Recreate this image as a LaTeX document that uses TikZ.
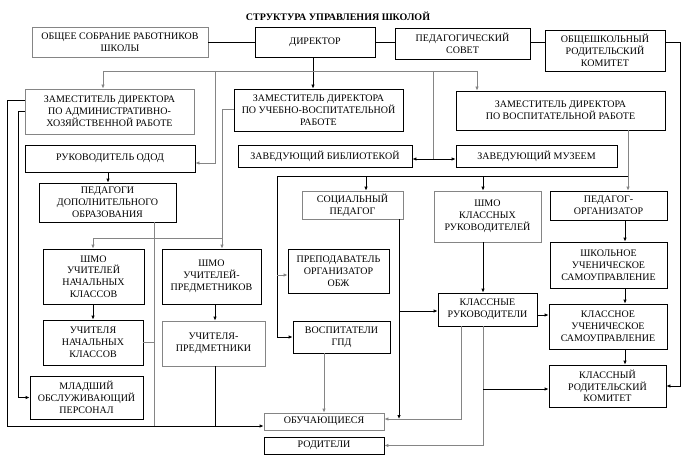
\documentclass[tikz,border=0pt]{standalone}
\usepackage{fontspec}
\setmainfont{Liberation Serif}
\usetikzlibrary{arrows.meta}
\definecolor{gl}{rgb}{0.52,0.52,0.52}
\newcommand\mybox[7][]{%
  \node[box,#1,minimum width={(#5-#3)*1pt},minimum height={(#6-#4)*1pt}] (#2) at ({(#3+#5)/2},{(#4+#6)/2}) {#7};}
\tikzset{
  box/.style={draw=black,line width=0.8pt,inner sep=0pt,align=center,font=\fontsize{10}{11.8}\selectfont},
  gbox/.style={draw=gl},
  ln/.style={draw=black,line width=0.8pt},
  gln/.style={draw=gl,line width=0.8pt},
  arr/.style={ln,-{Latex[length=4pt,width=3.5pt]}},
  garr/.style={gln,-{Latex[length=4pt,width=3.5pt]}},
}
\begin{document}
\begin{tikzpicture}[x=1pt,y=-1pt]
\useasboundingbox (0,0) rectangle (687,465);
\node[font=\bfseries\fontsize{10}{12}\selectfont] (title) at (338,16) {СТРУКТУРА УПРАВЛЕНИЯ ШКОЛОЙ};
% boxes
\mybox[gbox]{sobr}{32}{27}{208}{57}{ОБЩЕЕ СОБРАНИЕ РАБОТНИКОВ\\ШКОЛЫ}
\mybox{dir}{255}{27}{375}{57}{ДИРЕКТОР}
\mybox{ped}{395}{28}{530}{59}{ПЕДАГОГИЧЕСКИЙ\\СОВЕТ}
\mybox{obsh}{545}{30}{665}{71}{ОБЩЕШКОЛЬНЫЙ\\РОДИТЕЛЬСКИЙ\\КОМИТЕТ}
\mybox[gbox]{zahr}{25}{89}{194}{134}{ЗАМЕСТИТЕЛЬ ДИРЕКТОРА\\ПО АДМИНИСТРАТИВНО-\\ХОЗЯЙСТВЕННОЙ РАБОТЕ}
\mybox{zuvr}{234}{89}{403}{131}{ЗАМЕСТИТЕЛЬ ДИРЕКТОРА\\ПО УЧЕБНО-ВОСПИТАТЕЛЬНОЙ\\РАБОТЕ}
\mybox{zvr}{456}{91}{665}{130}{ЗАМЕСТИТЕЛЬ ДИРЕКТОРА\\ПО ВОСПИТАТЕЛЬНОЙ РАБОТЕ}
\mybox{odod}{25}{145}{195}{172}{РУКОВОДИТЕЛЬ ОДОД}
\mybox{lib}{238}{145}{412}{167}{ЗАВЕДУЮЩИЙ БИБЛИОТЕКОЙ}
\mybox{mus}{456}{145}{617}{167}{ЗАВЕДУЮЩИЙ МУЗЕЕМ}
\mybox{dop}{39}{183}{176}{222}{ПЕДАГОГИ\\ДОПОЛНИТЕЛЬНОГО\\ОБРАЗОВАНИЯ}
\mybox{shmn}{43}{249}{144}{304}{ШМО\\УЧИТЕЛЕЙ\\НАЧАЛЬНЫХ\\КЛАССОВ}
\mybox{shmp}{162}{249}{261}{304}{ШМО\\УЧИТЕЛЕЙ-\\ПРЕДМЕТНИКОВ}
\mybox{uchn}{43}{320}{143}{365}{УЧИТЕЛЯ\\НАЧАЛЬНЫХ\\КЛАССОВ}
\mybox[gbox]{uchp}{162}{321}{265}{366}{УЧИТЕЛЯ-\\ПРЕДМЕТНИКИ}
\mybox{mlad}{30}{376}{143}{419}{МЛАДШИЙ\\ОБСЛУЖИВАЮЩИЙ\\ПЕРСОНАЛ}
\mybox[gbox]{soc}{302}{191}{403}{219}{СОЦИАЛЬНЫЙ\\ПЕДАГОГ}
\mybox{obzh}{288}{249}{389}{293}{ПРЕПОДАВАТЕЛЬ\\ОРГАНИЗАТОР\\ОБЖ}
\mybox{gpd}{293}{321}{390}{353}{ВОСПИТАТЕЛИ\\ГПД}
\mybox[gbox]{shmk}{434}{191}{541}{242}{ШМО\\КЛАССНЫХ\\РУКОВОДИТЕЛЕЙ}
\mybox{klr}{438}{293}{537}{326}{КЛАССНЫЕ\\РУКОВОДИТЕЛИ}
\mybox{po}{550}{191}{667}{220}{ПЕДАГОГ-\\ОРГАНИЗАТОР}
\mybox{shus}{550}{242}{667}{288}{ШКОЛЬНОЕ\\УЧЕНИЧЕСКОЕ\\САМОУПРАВЛЕНИЕ}
\mybox{kus}{549}{304}{667}{349}{КЛАССНОЕ\\УЧЕНИЧЕСКОЕ\\САМОУПРАВЛЕНИЕ}
\mybox{krk}{549}{365}{666}{407}{КЛАССНЫЙ\\РОДИТЕЛЬСКИЙ\\КОМИТЕТ}
\mybox[gbox]{obuch}{264}{413}{384}{430}{ОБУЧАЮЩИЕСЯ}
\mybox{rod}{264}{437}{384}{454}{РОДИТЕЛИ}
% helper coordinates
\coordinate (b1) at (103,71);
\coordinate (b2) at (477,71);
\coordinate (b3) at (215,71);
\coordinate (b4) at (433,71);
\coordinate (xd) at (313,0);
\coordinate (rr) at (680,0);
\coordinate (x7) at (7,0);
\coordinate (x18) at (18,0);
\coordinate (x93) at (93,0);
\coordinate (x108) at (108,0);
\coordinate (x154) at (154,0);
\coordinate (x215) at (215,0);
\coordinate (x222) at (222,0);
\coordinate (x277) at (277,0);
\coordinate (x324) at (324,0);
\coordinate (x366) at (366,0);
\coordinate (x399) at (399,0);
\coordinate (x461) at (461,0);
\coordinate (x483) at (483,0);
\coordinate (x625) at (625,0);
\coordinate (x628) at (628,0);
\coordinate (c42) at (0,42);
\coordinate (c100) at (0,100);
\coordinate (c109) at (0,109);
\coordinate (c111) at (0,111);
\coordinate (c159) at (0,159);
\coordinate (c163) at (0,163);
\coordinate (c176) at (0,176);
\coordinate (c238) at (0,238);
\coordinate (c275) at (0,275);
\coordinate (c311) at (0,311);
\coordinate (c315) at (0,315);
\coordinate (c389) at (0,389);
\coordinate (c419) at (0,419);
\coordinate (c426) at (0,426);
% top row
\draw[ln] (sobr.east |- c42) -- (dir.west |- c42);
\draw[ln] (dir.east |- c42) -- (ped.west |- c42);
\draw[ln] (ped.east |- c42) -- (obsh.west |- c42);
\draw[arr] (obsh.east |- c42) -- (rr |- c42) -- (rr |- krk.east) -- (krk.east);
% director
\draw[arr] (dir.south -| xd) -- (zuvr.north -| xd);
\draw[gln] (b1) -- (b2);
\draw[garr] (b1) -- (zahr.north -| b1);
\draw[garr] (b2) -- (zvr.north -| b2);
\draw[garr] (b3) |- (odod.east |- c163);
\draw[gln] (b4) -- (b4 |- c159);
\draw[ln,{Latex[length=4pt,width=3.5pt]}-{Latex[length=4pt,width=3.5pt]}] (lib.east |- c159) -- (mus.west |- c159);
% ЗАМ УВР
\draw[garr] (zuvr.west |- c109) -| (shmp.north -| x222);
\draw[garr] (x222 |- c238) -| (shmn.north -| x93);
% ЗАМ АХР
\draw[arr] (zahr.west |- c100) -| (x7 |- c426) -- (obuch.west |- c426);
\draw[arr] (zahr.west |- c111) -| (x18 |- mlad.west) -- (mlad.west);
\draw[arr] (odod.south -| x108) -- (dop.north -| x108);
\draw[gln] (dop.south -| x154) -- (x154 |- c426);
\draw[gln] (uchn.east) -- (uchn.east -| x154);
\draw[arr] (shmn.south -| x93) -- (uchn.north -| x93);
\draw[arr] (shmp.south -| x215) -- (uchp.north -| x215);
\draw[ln] (uchp.south -| x215) -- (x215 |- c426);
% ЗАМ ВР
\draw[garr] (zvr.south -| x628) -- (po.north -| x628);
\draw[arr] (x628 |- c176) -| (x277 |- gpd.west) -- (gpd.west);
\draw[arr] (x366 |- c176) -- (soc.north -| x366);
\draw[arr] (x483 |- c176) -- (shmk.north -| x483);
\draw[garr] (x277 |- c275) -- (obzh.west |- c275);
\draw[arr] (soc.south -| x399) -- (x399 |- c419);
\draw[arr] (x399 |- c311) -- (klr.west |- c311);
\draw[garr] (gpd.south -| x324) -- (obuch.north -| x324);
\draw[arr] (shmk.south -| x483) -- (klr.north -| x483);
\draw[arr] (klr.east |- c315) -- (kus.west |- c315);
\draw[garr] (klr.south -| x461) |- (obuch.east |- c419);
\draw[garr] (klr.south -| x483) |- (rod.east);
\draw[arr] (x483 |- c389) -- (krk.west |- c389);
\draw[arr] (po.south -| x625) -- (shus.north -| x625);
\draw[arr] (shus.south -| x625) -- (kus.north -| x625);
\draw[arr] (kus.south -| x625) -- (krk.north -| x625);
\end{tikzpicture}
\end{document}
